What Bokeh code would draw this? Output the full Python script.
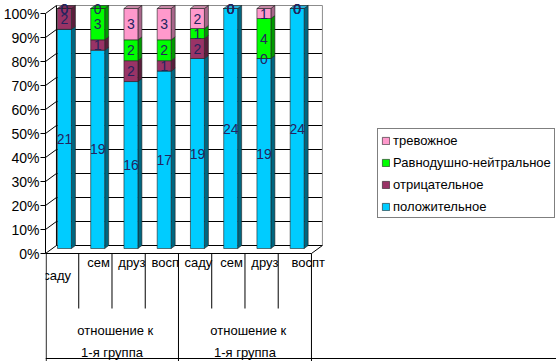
from bokeh.plotting import figure
from bokeh.models import Range1d, LinearAxis, FixedTicker, Legend, LegendItem, ColumnDataSource
from bokeh.core.properties import value
from bokeh.embed import file_html
from bokeh.resources import INLINE

# ---------------- data ----------------
SUBCATS = ["саду", "сем", "друз", "восп", "саду", "сем", "друз", "воспт"]
GROUP_LINE1 = ["отношение к", "отношение к"]
GROUP_LINE2 = ["1-я группа", "1-я группа"]
SERIES = ["положительное", "отрицательное", "Равнодушно-нейтральное", "тревожное"]
POSITIVE = [21, 19, 16, 17, 19, 24, 19, 24]
NEGATIVE = [2, 1, 2, 1, 2, 0, 0, 0]
NEUTRAL = [0, 3, 2, 2, 1, 0, 4, 0]
ANXIOUS = [0, 0, 3, 3, 2, 0, 1, 0]
TICK_VALUES = [0, 10, 20, 30, 40, 50, 60, 70, 80, 90, 100]
TICK_LABELS = ["0%", "10%", "20%", "30%", "40%", "50%", "60%", "70%", "80%", "90%", "100%"]

FRONT = ["#00CCFF", "#993366", "#00FF00", "#FF99CC"]
SIDE = ["#006680", "#5A1E3C", "#009A00", "#A8668A"]
TOP = ["#2BB3DA", "#7A2A52", "#00C800", "#C88AA8"]

# ---------------- geometry (pixel scale of the chart) ----------------
PX_X = 33.375
PX_Y = 2.4
W, H = 556, 361
LEFT = 43
AXIS0 = 253  # pixel row of 0%
x_end = (W - LEFT) / PX_X
y_top = AXIS0 / PX_Y
y_bot = (AXIS0 - H) / PX_Y

WDX, WDY = 11 / PX_X, 8 / PX_Y   # wall depth
BDX, BDY = 4 / PX_X, 3 / PX_Y    # bar depth
LIFT = 5 / PX_Y                  # bars stand a bit back
BL, BR = 0.36, 0.78              # bar front face in cell
FONT = value("Liberation Sans")

p = figure(width=W, height=H, x_range=Range1d(0, x_end), y_range=Range1d(y_bot, y_top),
           output_backend="svg", toolbar_location=None, x_axis_type=None, y_axis_type=None,
           min_border_left=LEFT, min_border_right=0, min_border_top=0, min_border_bottom=0)
p.outline_line_color = None
p.background_fill_color = "white"
p.border_fill_color = "white"

ncat = len(SUBCATS)

# ---- walls & gridlines ----
gx0, gx1, gy = [], [], []
for v in TICK_VALUES[:-1]:
    gx0.append(WDX); gx1.append(ncat + WDX); gy.append(v + WDY)
p.segment(x0=gx0, y0=gy, x1=gx1, y1=gy, line_color="black", line_width=1)
# top line & right edge of back wall
p.segment(x0=[WDX, ncat + WDX], y0=[100 + WDY, WDY], x1=[ncat + WDX, ncat + WDX], y1=[100 + WDY, 100 + WDY],
          line_color="#8c8c8c", line_width=1)
# back-left edge
p.segment(x0=[WDX], y0=[WDY], x1=[WDX], y1=[100 + WDY], line_color="black", line_width=1)
# side wall diagonals
p.segment(x0=[0] * len(TICK_VALUES), y0=TICK_VALUES, x1=[WDX] * len(TICK_VALUES),
          y1=[v + WDY for v in TICK_VALUES], line_color="black", line_width=1)
# floor front edge and right diagonal
p.segment(x0=[0, ncat], y0=[0, 0], x1=[ncat, ncat + WDX], y1=[0, WDY], line_color="black", line_width=1)

# ---- bars ----
series_vals = [POSITIVE, NEGATIVE, NEUTRAL, ANXIOUS]
totals = [sum(s[i] for s in series_vals) for i in range(ncat)]
front_src = [dict(l=[], r=[], b=[], t=[]) for _ in series_vals]
side_xs, side_ys, side_col = [], [], []
top_xs, top_ys, top_col = [], [], []
lab_x, lab_y, lab_t = [], [], []
for i in range(ncat):
    cum = 0.0
    lx, rx = i + BL, i + BR
    last = None
    for s, vals in enumerate(series_vals):
        v = vals[i]
        pct = v / totals[i] * 100
        b, t = cum, cum + pct
        cum = t
        fs = front_src[s]
        fs["l"].append(lx); fs["r"].append(rx); fs["b"].append(b + LIFT); fs["t"].append(t + LIFT)
        if v > 0:
            side_xs.append([rx, rx + BDX, rx + BDX, rx])
            side_ys.append([b + LIFT, b + LIFT + BDY, t + LIFT + BDY, t + LIFT])
            side_col.append(SIDE[s])
            last = s
        lab_x.append((lx + rx) / 2); lab_y.append((b + t) / 2 + LIFT); lab_t.append(str(v))
    top_xs.append([lx, lx + BDX, rx + BDX, rx])
    top_ys.append([cum + LIFT, cum + LIFT + BDY, cum + LIFT + BDY, cum + LIFT])
    top_col.append(TOP[last])

p.patches(xs=side_xs, ys=side_ys, fill_color=side_col, line_color="#202020", line_width=0.6)
front_r = []
for s in range(len(series_vals)):
    r = p.quad(left="l", right="r", bottom="b", top="t", source=ColumnDataSource(front_src[s]),
               fill_color=FRONT[s], line_color="#202020", line_width=0.6)
    front_r.append(r)
p.patches(xs=top_xs, ys=top_ys, fill_color=top_col, line_color="#202020", line_width=0.6)

p.text(x=lab_x, y=lab_y, text=lab_t, text_font=FONT, text_font_size="14px", text_color="#24245e",
       text_align="center", text_baseline="middle")

# ---- category table ----
short_x = [i for i in range(1, ncat) if i != ncat // 2]
p.segment(x0=short_x, y0=[0] * len(short_x), x1=short_x, y1=[-55 / PX_Y] * len(short_x),
          line_color="black", line_width=1)
long_x = [0.02, ncat / 2, ncat]
p.segment(x0=long_x, y0=[0] * 3, x1=long_x, y1=[y_bot] * 3, line_color="black", line_width=1)
p.segment(x0=[0], y0=[-105 / PX_Y], x1=[x_end], y1=[-105 / PX_Y], line_color="black", line_width=1)

sub_x = [i + 0.5 + 0.1 for i in range(ncat)]
sub_y = [-9 / PX_Y] * ncat
sub_x[0] = 0.5 - 0.15
sub_y[0] = -22 / PX_Y
sub_x[-1] = ncat - 0.5 + 0.4
p.text(x=sub_x, y=sub_y, text=SUBCATS, text_font=FONT, text_font_size="13px", text_color="black",
       text_align="center", text_baseline="middle")
gcx = [ncat / 4 + 0.1, 3 * ncat / 4 + 0.1]
p.text(x=gcx, y=[-77 / PX_Y] * 2, text=GROUP_LINE1, text_font=FONT, text_font_size="13px",
       text_color="black", text_align="center", text_baseline="middle")
p.text(x=[ncat / 4, 3 * ncat / 4], y=[-99 / PX_Y] * 2, text=GROUP_LINE2, text_font=FONT,
       text_font_size="13px", text_color="black", text_align="center", text_baseline="middle")

# ---- y axis ----
ax = LinearAxis(ticker=FixedTicker(ticks=TICK_VALUES), bounds=(0, 100))
ax.major_label_overrides = {v: l for v, l in zip(TICK_VALUES, TICK_LABELS)}
ax.axis_line_color = "black"
ax.major_tick_out = 5
ax.major_tick_in = 0
ax.minor_tick_out = 0
ax.minor_tick_in = 0
ax.major_label_standoff = 1
ax.major_label_text_font = "Liberation Sans"
ax.major_label_text_font_size = "14px"
ax.major_label_text_color = "black"
p.add_layout(ax, "left")

# ---- legend ----
items = [LegendItem(label=SERIES[s], renderers=[front_r[s]]) for s in [3, 2, 1, 0]]
lg = Legend(items=items, location=(332, 143))
lg.border_line_color = "black"
lg.border_line_width = 1
lg.background_fill_color = "white"
lg.background_fill_alpha = 1
lg.padding = 3
lg.spacing = 6
lg.margin = 0
lg.label_height = 16
lg.glyph_height = 9
lg.glyph_width = 9
lg.label_standoff = 3
lg.label_text_font = "Liberation Sans"
lg.label_text_font_size = "13px"
lg.label_text_color = "black"
p.add_layout(lg, "center")

open("out.html", "w").write(file_html(p, INLINE))
